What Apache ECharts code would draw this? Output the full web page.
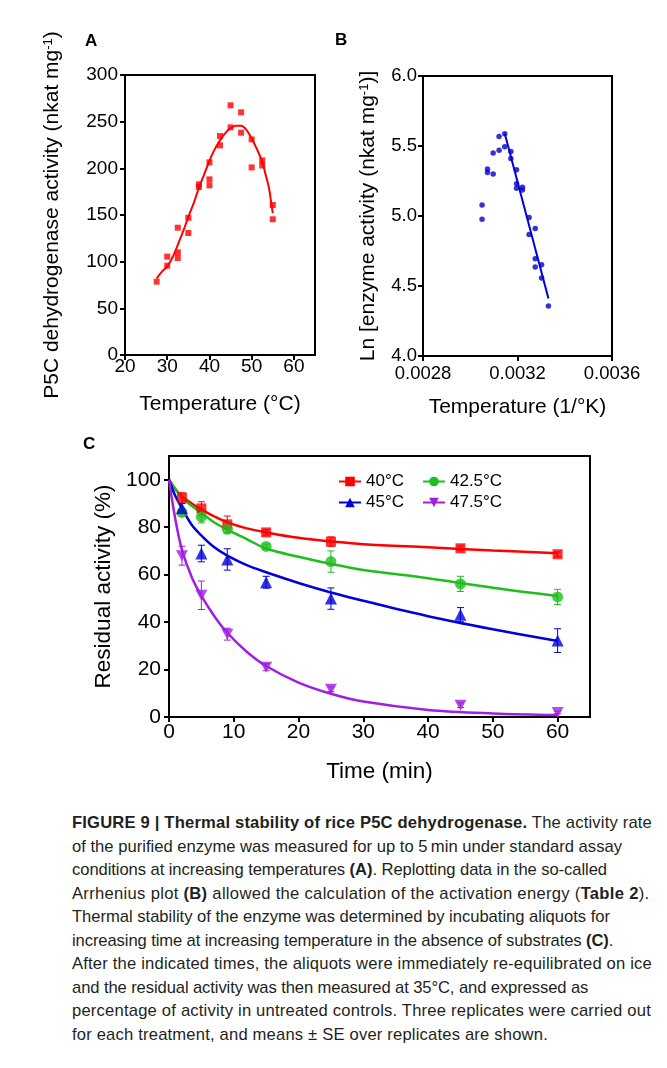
<!DOCTYPE html>
<html><head><meta charset="utf-8">
<script src="https://cdn.jsdelivr.net/npm/echarts@6/dist/echarts.min.js"></script>
<style>
html,body{margin:0;padding:0;background:#fff;width:667px;height:1068px;overflow:hidden;}
#chart{position:absolute;left:0;top:0;width:667px;height:800px;}
#cap{position:absolute;left:72px;top:811px;width:595px;font-family:"Liberation Sans",Arial,Helvetica,sans-serif;font-size:16.6px;line-height:23.5px;color:#231f20;}
#cap div{white-space:nowrap;}
</style></head><body>
<div id="chart"></div>
<div id="cap">
<div><b>FIGURE 9 | Thermal stability of rice P5C dehydrogenase.</b> The activity rate</div>
<div>of the purified enzyme was measured for up to 5&#8201;min under standard assay</div>
<div>conditions at increasing temperatures <b>(A)</b>. Replotting data in the so-called</div>
<div>Arrhenius plot <b>(B)</b> allowed the calculation of the activation energy (<b>Table 2</b>).</div>
<div>Thermal stability of the enzyme was determined by incubating aliquots for</div>
<div>increasing time at increasing temperature in the absence of substrates <b>(C)</b>.</div>
<div>After the indicated times, the aliquots were immediately re-equilibrated on ice</div>
<div>and the residual activity was then measured at 35°C, and expressed as</div>
<div>percentage of activity in untreated controls. Three replicates were carried out</div>
<div>for each treatment, and means ± SE over replicates are shown.</div>
</div>
<script>
// ---- Panel A: activity vs temperature ----
const tempA = [27.5,30,30,32.5,32.5,32.5,35,35,37.5,37.5,40,40,40,42.5,42.5,45,45,47.5,47.5,50,50,52.5,52.5,55,55];
const actA  = [78.6,105.4,95.7,136.4,110.0,103.9,147.0,130.7,182.9,180.0,206.4,188.2,181.8,234.6,224.6,267.5,243.9,260.0,238.2,231.0,201.0,208.5,203.0,160.7,145.4];
const fitAx = [27.5,28.7,30,31.3,32.5,33.9,35,36.3,37.5,38.8,40,41.2,42.5,43.8,45,46.3,47.5,48.8,50,51.3,52.6,53.2,54.1,54.6,55];
const fitAy = [82,89,95,105,118,134,148,163,179,194,208,220,230,238,243,245.5,245.5,241,232,220,206,195,179,164,152];
const ticksAx = [20,30,40,50,60];

// ---- Panel B: Arrhenius plot ----
const invTB = [0.003050,0.003050,0.003073,0.003073,0.003097,0.003097,0.003122,0.003122,0.003146,0.003146,0.003172,0.003172,0.003196,0.003196,0.003196,0.003221,0.003221,0.003249,0.003249,0.003275,0.003275,0.003275,0.003302,0.003302,0.003331];
const lnB   = [5.079,4.976,5.336,5.310,5.450,5.300,5.567,5.469,5.588,5.495,5.460,5.410,5.330,5.230,5.198,5.205,5.186,4.990,4.867,4.910,4.695,4.636,4.652,4.557,4.357];
const fitBx = [0.003146,0.003331];
const fitBy = [5.59,4.41];
const ticksBx = [0.0028,0.0032,0.0036];

// ---- Panel C: residual activity ----
const timesC = [2,5,9,15,25,45,60];
const names = ['40°C','42.5°C','45°C','47.5°C'];
const mean40 = [92.5,87.9,81.2,77.8,73.9,71.1,68.6];
const se40   = [2,2.8,3.5,1.2,2,1,1];
const mean42 = [86.2,84.3,79.1,71.9,65.5,56.1,50.6];
const se42   = [1.5,2.5,1.5,1,4.5,3.2,3.2];
const mean45 = [88,68.9,66.4,56.8,49.9,43.1,32.2];
const se45   = [2,3.5,4.5,2.5,4.5,3,5];
const mean47 = [68,51.3,34.9,21,11.7,5,1.9];
const se47   = [4,6,2.5,1.5,1,1,0.5];
const fitTimes = [0,1,2,3.5,5,7,9,12,15,20,25,30,40,50,60];
const fit40 = [100,96,93,90,87.5,84.5,82,79.5,77.8,75.5,74,72.8,71.5,70.2,69];
const fit42 = [100,96,92.5,89,86,82,79,75,71,67.5,64.5,62,58.5,54.5,51];
const fit45 = [100,93,88,81,76.5,71.5,68,64,61,56.5,52.5,49,42.5,37,32];
const fit47 = [100,83,70.5,59,51,42.5,35.5,27.5,21.5,14.5,9.8,6.5,3,1.5,0.8];
const ticksCx = [0,10,20,30,40,50,60];
const ticksCy = [0,20,40,60,80,100];

// caption line right edges (px)
const capRight = [652,622,607,652,610,613,652,556,651,548];

const F = '"Liberation Sans", Arial, Helvetica, sans-serif';
const zip = (a,b) => a.map((v,i)=>[v,b[i]]);

function axis(o){
  const a = {
    type:'value', min:o.min, max:o.max, interval:o.interval,
    axisLine:{show:true,onZero:false,lineStyle:{color:'#000',width:2}},
    axisTick:{show:true,inside:false,length:5,lineStyle:{color:'#000',width:2}},
    splitLine:{show:false},
    axisLabel:{color:'#000',fontSize:o.fs,fontFamily:F,margin:o.margin,formatter:o.fmt},
    gridIndex:o.grid,
    name:o.name, nameLocation:'middle', nameGap:o.gap,
    nameTextStyle:{color:'#000',fontSize:o.nfs,fontFamily:F,
      rich:{sup:{fontSize:Math.round(o.nfs*0.62),fontFamily:F,color:'#000',verticalAlign:'top',lineHeight:o.nfs*0.7}}}
  };
  if(o.custom){ a.axisTick.customValues=o.custom; a.axisLabel.customValues=o.custom; }
  return a;
}

const colors = ['#ff0000','#1ebe1e','#0000dd','#a01fe0'];
const symbols = ['rect','circle','triangle','path://M0,0 L10,0 L5,9 Z'];
const symSizes = [10,11,12,[12,11]];
const means = [mean40,mean42,mean45,mean47];
const ses = [se40,se42,se45,se47];
const fits = [fit40,fit42,fit45,fit47];

const series = [
  {type:'line',xAxisIndex:0,yAxisIndex:0,data:zip(fitAx,fitAy),smooth:0.3,symbol:'none',lineStyle:{color:'#ff0000',width:2},z:2},
  {type:'scatter',xAxisIndex:0,yAxisIndex:0,data:zip(tempA,actA),symbol:'rect',symbolSize:6,itemStyle:{color:'#ff0000'},z:3},
  {type:'line',xAxisIndex:1,yAxisIndex:1,data:zip(fitBx,fitBy),symbol:'none',lineStyle:{color:'#0000dd',width:2},z:2},
  {type:'scatter',xAxisIndex:1,yAxisIndex:1,data:zip(invTB,lnB),symbol:'circle',symbolSize:5.5,itemStyle:{color:'#0000cc'},z:3}
];
for(let k=0;k<4;k++){
  const c=colors[k];
  series.push({type:'line',name:names[k],xAxisIndex:2,yAxisIndex:2,data:zip(fitTimes,fits[k]),smooth:0.35,
    symbol:symbols[k],symbolSize:symSizes[k],showSymbol:false,lineStyle:{color:c,width:2.5},itemStyle:{color:c},z:2});
  series.push({type:'scatter',name:names[k],xAxisIndex:2,yAxisIndex:2,data:zip(timesC,means[k]),
    symbol:symbols[k],symbolSize:symSizes[k],itemStyle:{color:c},z:4});
  series.push({type:'custom',xAxisIndex:2,yAxisIndex:2,z:3,
    data:timesC.map((t,i)=>[t,means[k][i]-ses[k][i],means[k][i]+ses[k][i]]),
    encode:{x:0,y:[1,2]},
    renderItem:(p,api)=>{
      const lo=api.coord([api.value(0),api.value(1)]), hi=api.coord([api.value(0),api.value(2)]);
      const w=3.5, st={stroke:c,lineWidth:1};
      return {type:'group',children:[
        {type:'line',shape:{x1:lo[0],y1:lo[1],x2:hi[0],y2:hi[1]},style:st},
        {type:'line',shape:{x1:lo[0]-w,y1:lo[1],x2:lo[0]+w,y2:lo[1]},style:st},
        {type:'line',shape:{x1:hi[0]-w,y1:hi[1],x2:hi[0]+w,y2:hi[1]},style:st}
      ]};
    }});
}

const legTxt = {color:'#000',fontSize:17,fontFamily:F};
const option = {
  animation:false,
  grid:[
    {left:125,top:75,width:190,height:280,show:true,borderColor:'#000',borderWidth:2},
    {left:423,top:76,width:189,height:280,show:true,borderColor:'#000',borderWidth:2},
    {left:169,top:456,width:421,height:261,show:true,borderColor:'#000',borderWidth:2}
  ],
  xAxis:[
    axis({grid:0,min:20,max:65,interval:5,custom:ticksAx,fs:19,margin:2,name:'Temperature (°C)',nfs:21,gap:39}),
    axis({grid:1,min:0.0028,max:0.0036,interval:0.0004,custom:ticksBx,fs:18.5,margin:8,fmt:v=>v.toFixed(4),name:'Temperature (1/°K)',nfs:21,gap:41}),
    axis({grid:2,min:0,max:65,interval:5,custom:ticksCx,fs:21,margin:5,name:'Time (min)',nfs:22.5,gap:43})
  ],
  yAxis:[
    axis({grid:0,min:0,max:300,interval:50,fs:19,margin:7,name:'P5C dehydrogenase activity (nkat mg{sup|-1})',nfs:21,gap:62}),
    axis({grid:1,min:4.0,max:6.0,interval:0.5,fs:18.5,margin:6,fmt:v=>v.toFixed(1),name:'Ln [enzyme activity (nkat mg{sup|-1})]',nfs:21,gap:44}),
    axis({grid:2,min:0,max:110,interval:10,custom:ticksCy,fs:21,margin:8,name:'Residual activity (%)',nfs:22.5,gap:52})
  ],
  legend:[
    {data:[names[0],names[1]],left:333,top:468,itemWidth:22,itemHeight:12,itemGap:18,textStyle:legTxt,selectedMode:false},
    {data:[names[2],names[3]],left:333,top:489,itemWidth:22,itemHeight:12,itemGap:18,textStyle:legTxt,selectedMode:false}
  ],
  graphic:[
    {type:'text',left:85,top:33,style:{text:'A',fontSize:17,fontWeight:'bold',fontFamily:F,fill:'#000'}},
    {type:'text',left:335,top:32,style:{text:'B',fontSize:17,fontWeight:'bold',fontFamily:F,fill:'#000'}},
    {type:'text',left:83,top:436,style:{text:'C',fontSize:17,fontWeight:'bold',fontFamily:F,fill:'#000'}}
  ],
  series:series
};
const chart = echarts.init(document.getElementById('chart'));
chart.setOption(option);

// fit each caption line to the reference line length (small, clamped spacing change)
document.querySelectorAll('#cap div').forEach((d,i)=>{
  const r=document.createRange(); r.selectNodeContents(d);
  const w=r.getBoundingClientRect().width;
  const n=d.textContent.length;
  const target=capRight[i]-72;
  const ls=Math.max(-0.1,Math.min(0.3,(target-w)/n));
  d.style.letterSpacing=ls.toFixed(3)+'px';
});
</script>
</body></html>
